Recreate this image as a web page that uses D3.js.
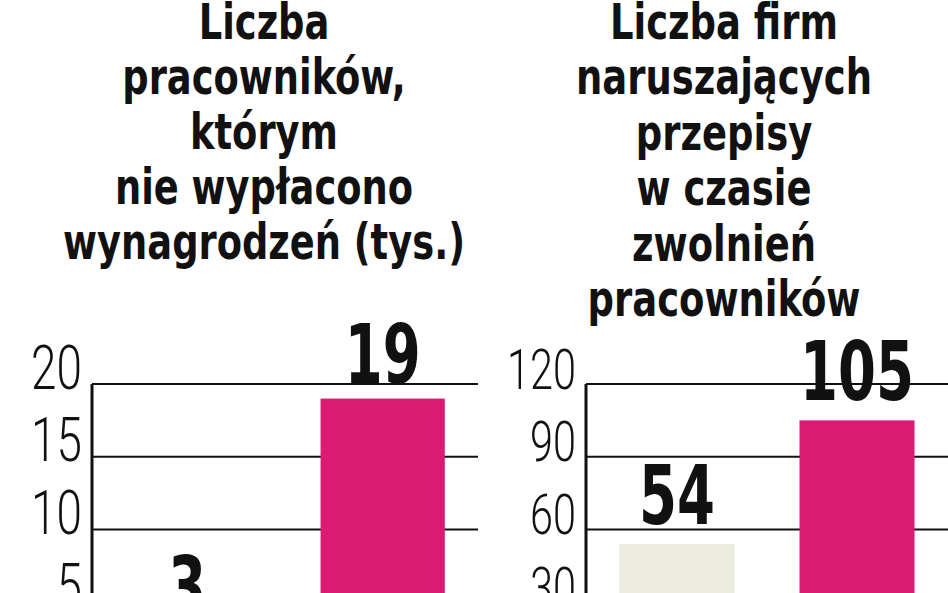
<!DOCTYPE html>
<html>
<head>
<meta charset="utf-8">
<script src="https://cdn.jsdelivr.net/npm/d3@7/dist/d3.min.js"></script>
<style>
  html, body { margin: 0; padding: 0; background: #fff; }
  svg { display: block; }
</style>
</head>
<body>
<svg id="chart" width="948" height="593"></svg>
<script>
// ---- data ----
const leftTitle = ["Liczba", "pracowników,", "którym", "nie wypłacono", "wynagrodzeń (tys.)"];
const rightTitle = ["Liczba firm", "naruszających", "przepisy", "w czasie", "zwolnień", "pracowników"];
const leftCategories = ["A", "B"];
const leftValues = [3, 19];
const rightCategories = ["A", "B"];
const rightValues = [54, 105];
const leftTicks = [0, 5, 10, 15, 20];
const rightTicks = [0, 30, 60, 90, 120];
const barColors = ["#ECEBE0", "#DB1B73"];

const svg = d3.select("#chart");
const titleFont = "'DejaVu Sans Condensed', 'DejaVu Sans', sans-serif";
const tickFont = "Roboto, 'DejaVu Sans', sans-serif";

function panel(cfg) {
  const g = svg.append("g");
  const y = d3.scaleLinear().domain([0, cfg.max]).range([675, 384]);
  const x = d3.scaleBand().domain(cfg.categories).range([cfg.x0, cfg.x1])
    .paddingInner(cfg.pi).paddingOuter(cfg.po);

  // title
  const tg = g.append("g");
  const lines = tg.selectAll("text").data(cfg.title).join("text")
    .attr("font-family", titleFont)
    .attr("font-weight", "bold")
    .attr("font-size", 50)
    .attr("fill", "#111")
    .attr("text-anchor", "middle")
    .text(d => d);
  const refW = lines.nodes()[cfg.refLine].getComputedTextLength();
  const sx = cfg.refWidth / refW;
  lines.attr("transform", (d, i) => `translate(${cfg.titleX},${cfg.titleY0 + i * cfg.titleStep}) scale(${sx},1)`);

  // gridlines (excluding 0)
  g.append("g").selectAll("line").data(cfg.ticks.filter(t => t > 0)).join("line")
    .attr("x1", cfg.x0).attr("x2", cfg.x1)
    .attr("y1", d => y(d)).attr("y2", d => y(d))
    .attr("stroke", "#111").attr("stroke-width", 2);

  // bars
  g.append("g").selectAll("rect").data(cfg.values).join("rect")
    .attr("x", (d, i) => x(cfg.categories[i]))
    .attr("width", x.bandwidth())
    .attr("y", d => y(d))
    .attr("height", d => y(0) - y(d))
    .attr("fill", (d, i) => barColors[i]);

  // vertical axis
  const axis = d3.axisLeft(y).tickValues(cfg.ticks).tickSize(0).tickPadding(0);
  const ag = g.append("g").attr("transform", `translate(${cfg.x0},0)`).call(axis);
  ag.select(".domain").attr("stroke", "#111").attr("stroke-width", 3)
    .attr("d", `M0,${y(cfg.max)}V${y(0)}`);
  ag.selectAll(".tick text")
    .attr("font-family", tickFont)
    .attr("font-weight", 300)
    .attr("font-size", cfg.tickSize)
    .attr("fill", "#111")
    .attr("dy", 0)
    .attr("x", 0)
    .attr("text-anchor", "end")
    .attr("transform", `translate(-10,4) scale(0.74,1)`);

  // value labels
  g.append("g").selectAll("text").data(cfg.values).join("text")
    .attr("font-family", titleFont)
    .attr("font-weight", "bold")
    .attr("font-size", 82)
    .attr("fill", "#111")
    .attr("text-anchor", "middle")
    .attr("transform", (d, i) => `translate(${x(cfg.categories[i]) + x.bandwidth() / 2},${y(d) - cfg.labelGap}) scale(0.74,1)`)
    .text(d => d);
}

panel({
  title: leftTitle, refLine: 4, refWidth: 402, titleX: 264, titleY0: 39, titleStep: 55,
  categories: leftCategories, values: leftValues, ticks: leftTicks, max: 20,
  x0: 92, x1: 478, pi: 0.364, po: 0.17, tickSize: 62, labelGap: 16
});
panel({
  title: rightTitle, refLine: 1, refWidth: 296, titleX: 724, titleY0: 39, titleStep: 55.4,
  categories: rightCategories, values: rightValues, ticks: rightTicks, max: 120,
  x0: 586, x1: 948, pi: 0.361, po: 0.186, tickSize: 56, labelGap: 20
});
</script>
</body>
</html>
